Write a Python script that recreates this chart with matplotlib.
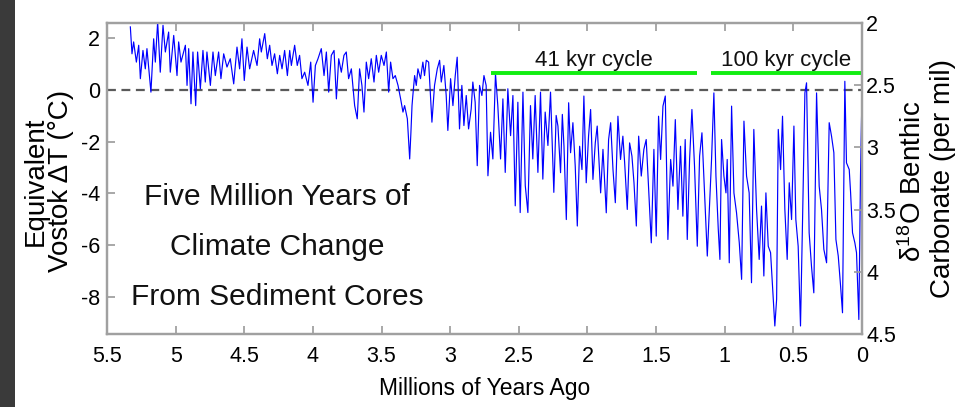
import matplotlib
matplotlib.use("Agg")
import matplotlib.pyplot as plt
from matplotlib.patches import Rectangle

# === STYLE ===
plt.rcParams["font.family"] = ["Liberation Sans", "DejaVu Sans"]
plt.rcParams["axes.unicode_minus"] = False
plt.rcParams["mathtext.default"] = "regular"

W, H = 957, 407

# === DATA: benthic stack expressed as equivalent Vostok temperature ===
# age in millions of years ago, temperature anomaly in degrees C
age_myr = [
    5.330, 5.318, 5.306, 5.286, 5.269, 5.257, 5.238, 5.221, 5.209, 5.180,
    5.160, 5.148, 5.131, 5.112, 5.092, 5.075, 5.051, 5.039, 5.014, 4.990,
    4.978, 4.961, 4.929, 4.917, 4.905, 4.888, 4.874, 4.854, 4.840, 4.820,
    4.801, 4.784, 4.772, 4.747, 4.728, 4.711, 4.687, 4.670, 4.650, 4.626,
    4.602, 4.577, 4.553, 4.534, 4.517, 4.500, 4.480, 4.461, 4.432, 4.407,
    4.388, 4.376, 4.351, 4.332, 4.315, 4.298, 4.279, 4.259, 4.242, 4.225,
    4.206, 4.186, 4.169, 4.157, 4.133, 4.114, 4.097, 4.080, 4.060, 4.036,
    4.016, 3.999, 3.982, 3.963, 3.939, 3.919, 3.902, 3.885, 3.866, 3.846,
    3.829, 3.812, 3.793, 3.774, 3.757, 3.740, 3.720, 3.696, 3.677, 3.660,
    3.643, 3.628, 3.611, 3.594, 3.575, 3.555, 3.538, 3.521, 3.502, 3.482,
    3.465, 3.448, 3.434, 3.417, 3.400, 3.380, 3.361, 3.344, 3.332, 3.312,
    3.295, 3.286, 3.278, 3.272, 3.259, 3.247, 3.235, 3.216, 3.199, 3.187,
    3.174, 3.157, 3.133, 3.114, 3.094, 3.077, 3.065, 3.046, 3.029, 3.017,
    2.997, 2.980, 2.963, 2.949, 2.932, 2.915, 2.900, 2.883, 2.866, 2.847,
    2.835, 2.818, 2.803, 2.786, 2.769, 2.754, 2.738, 2.725, 2.706, 2.689,
    2.670, 2.653, 2.633, 2.616, 2.599, 2.580, 2.560, 2.543, 2.526, 2.507,
    2.490, 2.470, 2.453, 2.434, 2.415, 2.398, 2.381, 2.361, 2.342, 2.325,
    2.308, 2.288, 2.269, 2.245, 2.228, 2.215, 2.196, 2.183, 2.171, 2.154,
    2.137, 2.123, 2.106, 2.089, 2.074, 2.057, 2.040, 2.026, 2.009, 1.992,
    1.977, 1.960, 1.943, 1.929, 1.904, 1.887, 1.863, 1.846, 1.831, 1.814,
    1.797, 1.778, 1.759, 1.742, 1.729, 1.710, 1.693, 1.676, 1.661, 1.644,
    1.627, 1.608, 1.589, 1.572, 1.555, 1.535, 1.516, 1.499, 1.482, 1.467,
    1.450, 1.433, 1.414, 1.394, 1.377, 1.360, 1.341, 1.322, 1.305, 1.288,
    1.273, 1.256, 1.239, 1.220, 1.200, 1.183, 1.166, 1.147, 1.127, 1.096,
    1.079, 1.064, 1.047, 1.035, 1.023, 1.006, 0.991, 0.982, 0.967, 0.950,
    0.933, 0.914, 0.894, 0.877, 0.860, 0.841, 0.822, 0.805, 0.788, 0.768,
    0.749, 0.732, 0.715, 0.700, 0.683, 0.666, 0.652, 0.635, 0.622, 0.610,
    0.593, 0.579, 0.562, 0.545, 0.530, 0.513, 0.496, 0.482, 0.465, 0.448,
    0.433, 0.416, 0.404, 0.385, 0.368, 0.351, 0.331, 0.312, 0.295, 0.278,
    0.258, 0.239, 0.222, 0.205, 0.190, 0.173, 0.156, 0.142, 0.125, 0.113,
    0.093, 0.083, 0.069, 0.052, 0.040, 0.023, 0.011, 0.000,
]
temp_c = [
    2.43, 1.39, 1.85, 1.07, 1.72, 0.43, 1.52, 0.81, 1.59, -0.09,
    1.97, 1.07, 2.62, 0.68, 2.49, 1.46, 2.23, 0.68, 2.10, 0.55,
    1.85, 1.07, 1.72, 0.17, 1.59, -0.54, 1.46, -0.61, 1.46, 0.04,
    1.52, 0.30, 1.46, 0.17, 1.46, 0.55, 1.46, 0.43, 1.39, 0.88,
    1.20, 0.23, 1.65, 0.81, 1.97, 0.36, 1.65, 0.81, 1.52, 0.94,
    1.97, 1.46, 2.17, 1.20, 1.72, 0.94, 1.39, 0.62, 1.33, 0.81,
    1.52, 0.55, 1.52, 0.94, 1.72, 0.94, 1.33, 0.43, 0.68, 0.17,
    1.07, -0.48, 0.94, 1.20, 1.59, 0.55, 1.46, -0.09, 1.33, 1.52,
    -0.35, 1.20, 0.68, 1.33, 1.46, 0.43, 0.81, -0.61, -1.12, 0.81,
    0.17, -0.86, 1.07, 0.43, 1.20, 0.30, 1.33, 0.68, 1.33, 0.94,
    1.46, -0.09, 1.07, 0.43, 0.55, 0.17, -0.35, -0.86, -0.61, -1.12,
    -2.67, -1.64, -0.61, -0.22, 0.55, 0.17, 0.81, 0.43, 1.07, 0.55,
    1.14, 1.07, -1.25, 0.17, 0.81, 1.14, 0.30, 0.94, -0.22, -1.57,
    0.43, -0.61, 0.55, 1.26, -1.51, 0.17, -1.38, -0.22, -1.51, -0.74,
    0.30, -0.48, -2.93, 0.17, -0.22, 0.55, 0.17, -3.32, -1.64, -2.67,
    0.62, -0.61, -2.67, -0.35, -3.19, 0.04, -1.77, -0.22, -4.48, -0.48,
    -4.74, -0.09, -3.70, -4.74, -0.61, -2.67, -0.22, -3.19, -0.09, -3.45,
    -0.86, -2.15, -0.09, -3.96, -0.99, -1.40, -3.20, -0.95, -2.18, -5.01,
    -0.50, -2.43, -1.27, -2.95, -5.26, -2.18, -3.08, -0.24, -3.59, -1.79,
    -0.76, -3.46, -2.05, -1.40, -3.98, -2.30, -4.75, -1.92, -1.27, -3.08,
    -4.36, -1.02, -2.69, -1.79, -2.82, -4.62, -2.05, -2.56, -3.59, -5.26,
    -1.79, -3.33, -2.30, -1.92, -3.72, -5.91, -2.30, -5.65, -1.02, -2.69,
    -0.63, -0.24, -5.78, -2.69, -3.72, -1.15, -4.62, -2.18, -4.88, -1.92,
    -5.78, -2.69, -0.76, -2.95, -6.04, -2.56, -1.66, -3.98, -6.42, -2.69,
    -0.12, -3.33, -5.39, -6.55, -1.92, -3.33, -3.98, -2.69, -6.68, -0.63,
    -3.98, -4.75, -5.91, -7.32, -1.21, -3.33, -3.98, -7.45, -1.53, -4.62,
    -6.55, -4.49, -7.19, -3.98, -6.04, -6.29, -7.58, -9.12, -8.09, -1.53,
    -3.08, -1.02, -4.62, -6.55, -3.59, -5.01, -1.40, -5.01, -6.04, -9.12,
    -5.01, -0.12, 0.27, -5.52, -6.81, -7.84, -0.12, -3.72, -4.62, -6.16,
    -6.68, -1.27, -1.79, -2.43, -5.78, -6.42, -7.58, -8.61, 0.33, -2.82,
    -3.08, -3.98, -5.52, -5.91, -6.29, -8.87, -3.33, -0.12,
]

# cycle regimes: (label, start age, end age)
cycle_labels = ["41 kyr cycle", "100 kyr cycle"]
cycle_start = [2.70, 1.10]
cycle_end = [1.20, 0.0]
cycle_level = 0.65

x_ticks = [5.5, 5, 4.5, 4, 3.5, 3, 2.5, 2, 1.5, 1, 0.5, 0]
t_ticks = [2, 0, -2, -4, -6, -8]
d18o_ticks = [2, 2.5, 3, 3.5, 4, 4.5]

# === FIGURE ===
fig = plt.figure(figsize=(W / 100, H / 100), dpi=100)
fig.patch.set_facecolor("white")
fig.patches.append(Rectangle((0, 0), 15 / W, 1, transform=fig.transFigure,
                             facecolor="#3a3a3a", edgecolor="none", zorder=0))

ax = fig.add_axes([107 / W, 1 - 334 / H, 755 / W, 311 / H])
ax.plot(age_myr, temp_c, color="#0000ff", lw=0.85, zorder=3)
ax.axhline(0, color="#5a5a5a", lw=1.6, ls=(0, (4, 2.5)), zorder=2)

for lab, s, e in zip(cycle_labels, cycle_start, cycle_end):
    ax.plot([s, e], [cycle_level, cycle_level], color="#11ee11", lw=2.8,
            solid_capstyle="butt", zorder=4, clip_on=False)
    ax.text((s + e) / 2, cycle_level + 0.28, lab, ha="center", va="baseline",
            fontsize=16, color="#111111")

ax.set_xlim(5.5, 0)
ax.set_ylim(-9.43, 2.58)
ax.set_xticks(x_ticks)
ax.set_xticklabels(["%g" % v for v in x_ticks])
ax.set_yticks(t_ticks)
ax.set_yticklabels(["%g" % v for v in t_ticks])
ax.tick_params(direction="in", length=6, width=1.2, color="#999999",
               labelsize=15.5, top=True, right=False, pad=5)
ax.tick_params(axis="x", pad=9)
for sp in ax.spines.values():
    sp.set_color("#a0a0a0")
    sp.set_linewidth(1.6)

ax.set_xlabel("Millions of Years Ago", fontsize=16.5, labelpad=7)

# right axis: benthic d18O, increasing downward
ax2 = ax.twinx()
ax2.set_ylim(4.5, 2.0)
ax2.set_yticks(d18o_ticks)
ax2.set_yticklabels(["%g" % v for v in d18o_ticks])
ax2.tick_params(direction="in", length=6, width=1.2, color="#999999",
                labelsize=15.5, pad=3)
for sp in ax2.spines.values():
    sp.set_color("#a0a0a0")
    sp.set_linewidth(1.6)

# axis titles, two lines each
fig.text(36 / W, 1 - 181 / H, "Equivalent", rotation=90, ha="center",
         va="center", fontsize=20)
fig.text(61 / W, 1 - 181 / H, "Vostok \u0394T (\u00b0C)", rotation=90,
         ha="center", va="center", fontsize=20)
fig.text(913 / W, 1 - 181 / H, "\u03b4$^{18}$O Benthic", rotation=90,
         ha="center", va="center", fontsize=20)
fig.text(943 / W, 1 - 179 / H, "Carbonate (per mil)", rotation=90,
         ha="center", va="center", fontsize=20)

# headline inside the plot
for line, base in zip(["Five Million Years of", "Climate Change",
                       "From Sediment Cores"], [205, 255, 305]):
    fig.text(277 / W, 1 - base / H, line, ha="center", va="baseline",
             fontsize=21.5, color="#111111")

fig.savefig("out.png", dpi=100)
